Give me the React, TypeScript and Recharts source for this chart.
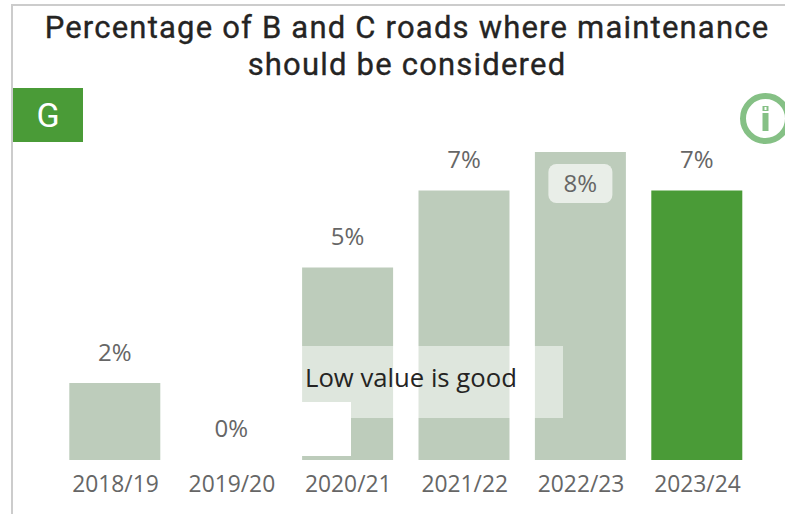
import { BarChart, Bar, XAxis, YAxis, Cell, LabelList } from 'recharts'

const years = ['2018/19', '2019/20', '2020/21', '2021/22', '2022/23', '2023/24']
const values = [2, 0, 5, 7, 8, 7]
const titleLines = ['Percentage of B and C roads where maintenance', 'should be considered']

const BAR = '#bdccbb'
const CURRENT = '#4a9b37'
const GREY = '#666666'
const AXIS_FONT = '"Open Sans", sans-serif'

const chartData = years.map((year, i) => ({ year, value: values[i] }))

// La etiqueta del máximo va dentro de la barra, sobre una pastilla clara
function ValueLabel(props: any) {
  const { x, y, width, value } = props
  const cx = x + width / 2
  if (value === Math.max(...values)) {
    return (
      <g>
        <rect x={cx - 32} y={y + 12} width={64} height={39} rx={8} fill="#e9eee8" />
        <text x={cx} y={y + 30} textAnchor="middle" dominantBaseline="central" fontSize={24} fill={GREY} fontFamily={AXIS_FONT}>
          {value}%
        </text>
      </g>
    )
  }
  return (
    <text x={cx} y={y - 32} textAnchor="middle" dominantBaseline="central" fontSize={24} fill={GREY} fontFamily={AXIS_FONT}>
      {value}%
    </text>
  )
}

function InfoIcon() {
  return (
    <svg width={60} height={60} style={{ position: 'absolute', left: 735, top: 88, overflow: 'visible' }}>
      <circle cx={30.5} cy={30.5} r={22.5} fill="none" stroke="#85c085" strokeWidth={6} />
      <rect x={27.5} y={25} width={6} height={18} fill="#85c085" />
      <rect x={27.5} y={18} width={6} height={5} fill="#85c085" />
      <rect x={29.5} y={19} width={2} height={3} fill="#ffffff" />
    </svg>
  )
}

export default function App() {
  return (
    <div style={{ position: 'absolute', left: 0, top: 0, width: 785, height: 514, overflow: 'hidden', background: '#fff' }}>
      <BarChart
        width={785}
        height={514}
        data={chartData}
        barSize={91}
        margin={{ top: 152, right: 30.3, left: 56.3, bottom: 0 }}
      >
        <XAxis
          dataKey="year"
          height={54}
          axisLine={false}
          tickLine={false}
          tickMargin={10}
          interval={0}
          dx={1}
          tick={{ fontSize: 22.8, fill: GREY, fontFamily: AXIS_FONT }}
        />
        <YAxis hide domain={[0, 8]} />
        <Bar dataKey="value" isAnimationActive={false} minPointSize={1}>
          {chartData.map((entry, index) => (
            <Cell key={index} fill={entry.value === 0 ? 'none' : entry.year === '2023/24' ? CURRENT : BAR} />
          ))}
          <LabelList dataKey="value" content={ValueLabel} />
        </Bar>
      </BarChart>

      {/* marco */}
      <div style={{ position: 'absolute', left: 11, top: 4, width: 2, height: 510, background: '#cccccc' }} />
      <div style={{ position: 'absolute', left: 11, top: 4, width: 774, height: 2, background: '#cccccc' }} />

      {/* título */}
      {titleLines.map((line, i) => (
        <div
          key={line}
          style={{
            position: 'absolute',
            left: 13,
            width: 788,
            top: 8 + i * 37,
            height: 40,
            lineHeight: '40px',
            textAlign: 'center',
            fontFamily: 'Roboto, sans-serif',
            fontSize: 31,
            fontWeight: 400,
            letterSpacing: 1.2,
            WebkitTextStroke: '0.35px #252423',
            color: '#252423',
            whiteSpace: 'nowrap',
          }}
        >
          {line}
        </div>
      ))}

      {/* insignia RAG */}
      <div
        style={{
          position: 'absolute',
          left: 13,
          top: 88,
          width: 70,
          height: 54,
          background: CURRENT,
          color: '#fff',
          fontFamily: 'Roboto, sans-serif',
          fontSize: 34,
          lineHeight: '54px',
          textAlign: 'center',
        }}
      >
        G
      </div>

      <InfoIcon />

      {/* nota sobre las barras */}
      <div style={{ position: 'absolute', left: 302, top: 346, width: 261, height: 72, background: 'rgba(255,255,255,0.5)' }} />
      <div style={{ position: 'absolute', left: 302, top: 402, width: 49, height: 54, background: '#fff' }} />
      <div
        style={{
          position: 'absolute',
          left: 305,
          top: 360,
          lineHeight: '36px',
          fontFamily: AXIS_FONT,
          fontSize: 25.7,
          color: '#252423',
          whiteSpace: 'nowrap',
        }}
      >
        Low value is good
      </div>
    </div>
  )
}
